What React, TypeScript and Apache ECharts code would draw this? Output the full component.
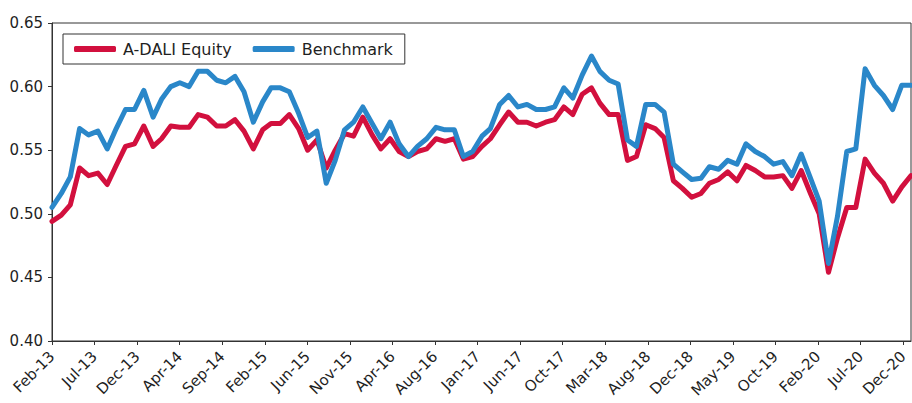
import { useEffect, useRef } from "react";
import * as echarts from "echarts";

// Month-end observations, Feb-13 .. Dec-20
const START_YEAR = 2013;
const START_MONTH = 1; // February (0-based)
const MONTH_COUNT = 95;

const TICK_LABELS = [
  "Feb-13", "Jul-13", "Dec-13", "Apr-14", "Sep-14", "Feb-15", "Jun-15",
  "Nov-15", "Apr-16", "Aug-16", "Jan-17", "Jun-17", "Oct-17", "Mar-18",
  "Aug-18", "Dec-18", "May-19", "Oct-19", "Feb-20", "Jul-20", "Dec-20",
];
const TICK_STEP_DAYS = 141.85;

const SERIES_NAMES = ["A-DALI Equity", "Benchmark"];

const adaliEquity = [
  0.494, 0.499, 0.507, 0.536, 0.530, 0.532, 0.523, 0.538, 0.553, 0.555,
  0.569, 0.553, 0.559, 0.569, 0.568, 0.568, 0.578, 0.576, 0.569, 0.569,
  0.574, 0.565, 0.551, 0.566, 0.571, 0.571, 0.578, 0.567, 0.550, 0.558,
  0.536, 0.550, 0.563, 0.561, 0.576, 0.562, 0.551, 0.559, 0.549, 0.545,
  0.549, 0.551, 0.559, 0.557, 0.559, 0.543, 0.545, 0.553, 0.559, 0.570,
  0.580, 0.572, 0.572, 0.569, 0.572, 0.574, 0.584, 0.578, 0.594, 0.599,
  0.587, 0.578, 0.578, 0.542, 0.545, 0.570, 0.567, 0.560, 0.526, 0.520,
  0.513, 0.516, 0.524, 0.527, 0.533, 0.526, 0.538, 0.534, 0.529, 0.529,
  0.530, 0.520, 0.534, 0.516, 0.500, 0.454, 0.481, 0.505, 0.505, 0.543,
  0.532, 0.524, 0.510, 0.521, 0.530,
];

const benchmark = [
  0.505, 0.516, 0.529, 0.567, 0.562, 0.565, 0.551, 0.567, 0.582, 0.582,
  0.597, 0.576, 0.590, 0.600, 0.603, 0.600, 0.612, 0.612, 0.605, 0.603,
  0.608, 0.596, 0.572, 0.588, 0.599, 0.599, 0.596, 0.579, 0.560, 0.565,
  0.524, 0.542, 0.566, 0.572, 0.584, 0.571, 0.559, 0.572, 0.555, 0.545,
  0.553, 0.559, 0.568, 0.566, 0.566, 0.545, 0.549, 0.561, 0.567, 0.586,
  0.593, 0.584, 0.586, 0.582, 0.582, 0.584, 0.599, 0.591, 0.609, 0.624,
  0.612, 0.605, 0.602, 0.558, 0.553, 0.586, 0.586, 0.580, 0.539, 0.533,
  0.527, 0.528, 0.537, 0.535, 0.542, 0.539, 0.555, 0.549, 0.545, 0.539,
  0.541, 0.530, 0.547, 0.528, 0.510, 0.461, 0.498, 0.549, 0.551, 0.614,
  0.601, 0.593, 0.582, 0.601, 0.601,
];

const DAY_MS = 86400000;
const dates = Array.from({ length: MONTH_COUNT }, (_, i) =>
  Date.UTC(START_YEAR, START_MONTH + i + 1, 0)
);
const tickValues = TICK_LABELS.map((_, k) => dates[0] + k * TICK_STEP_DAYS * DAY_MS);

const FONT = "'DejaVu Sans', Roboto, sans-serif";
const TEXT = "#1f1f1f";
const AXIS = "#333333";

export default function App() {
  const ref = useRef<HTMLDivElement>(null);

  useEffect(() => {
    if (!ref.current) return;
    const chart = echarts.init(ref.current, undefined, { renderer: "svg" });
    chart.setOption({
      animation: false,
      backgroundColor: "#ffffff",
      textStyle: { fontFamily: FONT },
      grid: {
        left: 52,
        right: 1,
        top: 23,
        bottom: 62,
        show: true,
        borderColor: AXIS,
        borderWidth: 1,
        backgroundColor: "transparent",
      },
      legend: {
        data: SERIES_NAMES,
        left: 63,
        top: 34,
        orient: "horizontal",
        icon: "roundRect",
        itemWidth: 42,
        itemHeight: 6,
        itemGap: 21,
        padding: [7, 12, 7, 11],
        borderColor: AXIS,
        borderWidth: 1,
        backgroundColor: "#ffffff",
        textStyle: { fontFamily: FONT, fontSize: 16, color: TEXT, padding: [0, 0, 0, 2] },
      },
      xAxis: {
        type: "value",
        min: dates[0],
        max: dates[dates.length - 1],
        axisLine: { show: true, lineStyle: { color: AXIS, width: 1 } },
        axisTick: {
          show: true,
          length: 4,
          customValues: tickValues,
          lineStyle: { color: AXIS, width: 1 },
        },
        axisLabel: {
          customValues: tickValues,
          rotate: 45,
          margin: 13,
          fontSize: 15,
          color: TEXT,
          fontFamily: FONT,
          formatter: (v: number) => {
            const k = Math.round((v - dates[0]) / (TICK_STEP_DAYS * DAY_MS));
            return TICK_LABELS[k] ?? "";
          },
        },
        splitLine: { show: false },
      },
      yAxis: {
        type: "value",
        min: 0.4,
        max: 0.65,
        interval: 0.05,
        axisLine: { show: true, lineStyle: { color: AXIS, width: 1 } },
        axisTick: { show: true, length: 4, lineStyle: { color: AXIS, width: 1 } },
        axisLabel: {
          margin: 9,
          fontSize: 15,
          color: TEXT,
          fontFamily: FONT,
          formatter: (v: number) => v.toFixed(2),
        },
        splitLine: { show: false },
      },
      series: [
        {
          name: SERIES_NAMES[0],
          type: "line",
          data: dates.map((d, i) => [d, adaliEquity[i]]),
          symbol: "none",
          color: "#D2103E",
          lineStyle: { width: 5, color: "#D2103E", join: "round", cap: "round" },
          z: 2,
        },
        {
          name: SERIES_NAMES[1],
          type: "line",
          data: dates.map((d, i) => [d, benchmark[i]]),
          symbol: "none",
          color: "#2A87C9",
          lineStyle: { width: 5, color: "#2A87C9", join: "round", cap: "round" },
          z: 3,
        },
      ],
    });
    return () => chart.dispose();
  }, []);

  return (
    <div
      ref={ref}
      style={{ position: "absolute", left: 0, top: 0, width: 912, height: 403 }}
    />
  );
}
